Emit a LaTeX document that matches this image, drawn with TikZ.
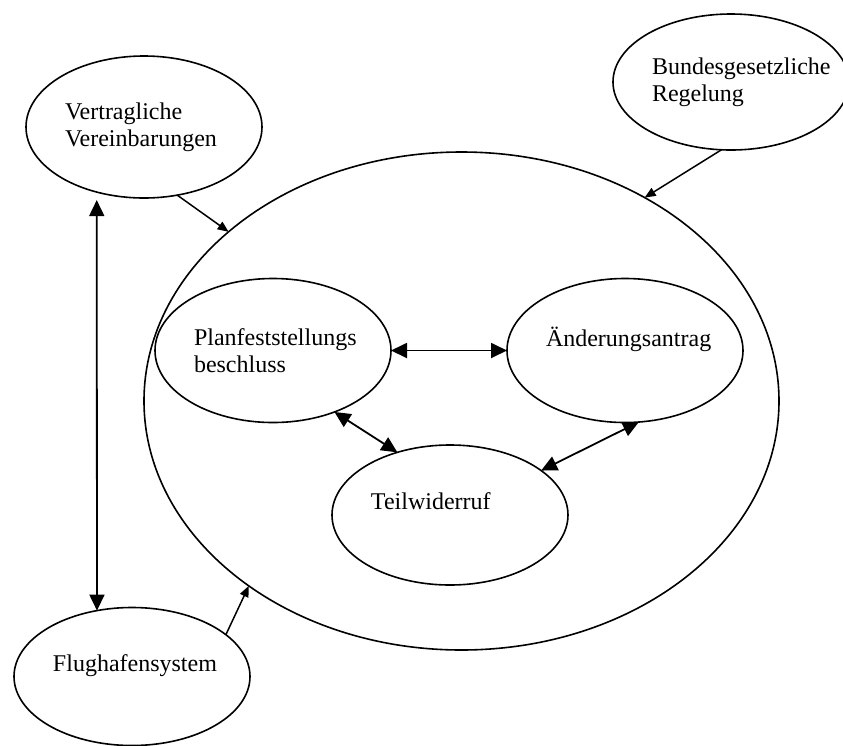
\documentclass[tikz,border=0pt]{standalone}
\usepackage{fontspec}
\setmainfont{Liberation Serif}
\usetikzlibrary{arrows.meta,shapes.geometric}
\hyphenpenalty=10000

\begin{document}
\begin{tikzpicture}[x=0.5pt,y=-0.5pt,>={Triangle[length=8pt,width=7.5pt]},
    blob/.style={ellipse,draw,line width=0.8pt,inner sep=0pt,outer sep=0pt,
        minimum width=118pt,minimum height=71pt,text width=79pt,align=left,
        font=\fontsize{12}{13.5}\selectfont},
    feed/.style={-{Triangle[length=5.5pt,width=4.5pt]},line width=0.75pt},
    link/.style={<->,line width=0.9pt}]

            \useasboundingbox (0,0) rectangle (843,746);

            % the ellipses
            \node[blob,minimum width=317.5pt,minimum height=249pt] (recht) at (461.5,401) {};

            \node[blob]                       (vertrag) at (144,127)   {Vertragliche\\Vereinbarungen};
            \node[blob,minimum height=68pt]   (bund)    at (731,82)    {Bundesgesetzliche\\Regelung};
            \node[blob,minimum height=69pt]   (flug)    at (132,676.5) {Flughafensystem\\\mbox{}};
            \node[blob,minimum height=72pt]   (plan)    at (273,350.5) {Planfeststellungs\\beschluss};
            \node[blob,minimum height=72pt]   (aend)    at (625,350.5) {Änderungsantrag\\\mbox{}};
            \node[blob,minimum height=70pt]   (teil)    at (450,515)   {Teilwiderruf\\\mbox{}};

            % the connectors
            \draw[feed] (vertrag.-64)  -- (recht.144.4);
            \draw[feed] (bund.-98.9)   -- (recht.48);
            \draw[feed] (flug.24.8)    -- (recht.221.3);

            \draw[link,shorten <=4pt] (vertrag.-126.3) -- (flug.118);
            \draw[link] (plan.east)  -- (aend.west);
            \draw[link] (plan.-45)   -- (teil.130);
            \draw[link] (aend.-79)   -- (teil.26.8);

        \end{tikzpicture}
\end{document}
